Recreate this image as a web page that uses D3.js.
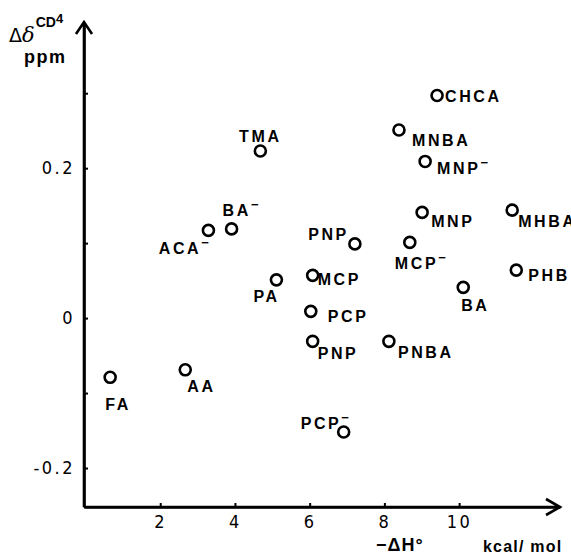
<!DOCTYPE html>
<html>
<head>
<meta charset="utf-8">
<script src="https://cdn.jsdelivr.net/npm/d3@7"></script>
<style>
  body { margin: 0; background: #fff; }
  svg { display: block; }
</style>
</head>
<body>
<script>
// compounds, -dH (kcal/mol) and shift (ppm)
var compounds = ["CHCA", "MNBA", "MNP⁻", "TMA", "MNP", "MHBA", "BA⁻", "ACA⁻", "PNP", "MCP⁻",
                 "PA", "MCP", "PHB", "BA", "PCP", "PNP", "PNBA", "FA", "AA", "PCP⁻"];
var enthalpy = [9.41, 8.39, 9.09, 4.68, 9.01, 11.42, 3.91, 3.29, 7.21, 8.68,
                5.11, 6.08, 11.53, 10.11, 6.03, 6.08, 8.12, 0.66, 2.67, 6.91];
var shift = [0.297, 0.251, 0.209, 0.223, 0.141, 0.144, 0.119, 0.117, 0.099, 0.101,
             0.051, 0.057, 0.064, 0.041, 0.009, -0.031, -0.031, -0.079, -0.069, -0.152];

var xTicks = [2, 4, 6, 8, 10];
var yTicks = [-0.2, -0.1, 0, 0.1, 0.2, 0.3];
var yTickLabels = { "-0.2": "-0.2", "0": "0", "0.2": "0.2" };

// where each label sits relative to its circle: [dx, dy, anchor]
var labelPlace = [[8, 7, "start"], [13, 16, "start"], [12, 13, "start"], [0, -9, "middle"],
                  [9, 15, "start"], [6, 17, "start"], [-9, -13, "start"], [3, 24, "end"],
                  [-6, -4, "end"], [-15, 27, "start"], [-23, 22, "start"], [5, 10, "start"],
                  [12, 11, "start"], [-2, 24, "start"], [17, 11, "start"], [5, 18, "start"],
                  [9, 17, "start"], [-5, 33, "start"], [2, 22, "start"], [-43, -3, "start"]];

var svgWidth = 571;
var svgHeight = 556;

var svg = d3.select("body")
  .append("svg")
  .attr("width", svgWidth)
  .attr("height", svgHeight);

var xScale = d3.scaleLinear().domain([-0.04, 12.7]).range([84, 560]);
var yScale = d3.scaleLinear().domain([-0.252, 0.395]).range([507, 22]);

var tickFont = "'Liberation Sans Narrow', 'DejaVu Sans Condensed', sans-serif";
var labelFont = "'Liberation Sans', Arial, sans-serif";

// axes
var leftAxis = d3.axisLeft(yScale)
  .tickValues(yTicks)
  .tickSizeInner(-4)
  .tickSizeOuter(0)
  .tickPadding(9)
  .tickFormat(d => yTickLabels[String(d)] || "");

var bottomAxis = d3.axisBottom(xScale)
  .tickValues(xTicks)
  .tickSizeInner(-4)
  .tickSizeOuter(0)
  .tickPadding(8)
  .tickFormat(d3.format("d"));

var gy = svg.append("g")
  .attr("transform", `translate(${xScale(-0.04)},0)`)
  .call(leftAxis);

var gx = svg.append("g")
  .attr("transform", `translate(0,${yScale(-0.252)})`)
  .call(bottomAxis);

[gx, gy].forEach(function(g) {
  g.select(".domain").attr("stroke", "#000").attr("stroke-width", 2.6);
  g.selectAll(".tick line").attr("stroke", "#000").attr("stroke-width", 2);
  g.selectAll(".tick text")
    .attr("fill", "#000")
    .attr("font-family", tickFont)
    .attr("font-size", 18)
    .attr("letter-spacing", 2.5);
});

// arrow heads
var ax0 = xScale(-0.04), ay0 = yScale(-0.252);
svg.append("path")
  .attr("d", `M${ax0 - 8},${yScale(0.395) + 12}L${ax0},${yScale(0.395)}L${ax0 + 8},${yScale(0.395) + 12}M${ax0},${yScale(0.395)}V${ay0}`)
  .attr("fill", "none").attr("stroke", "#000").attr("stroke-width", 2.6);
svg.append("path")
  .attr("d", `M${xScale(12.7) - 14},${ay0 - 8}L${xScale(12.7)},${ay0}L${xScale(12.7) - 14},${ay0 + 8}M${ax0},${ay0}H${xScale(12.7)}`)
  .attr("fill", "none").attr("stroke", "#000").attr("stroke-width", 2.6);

// points
var points = compounds.map((name, i) => ({ name: name, x: enthalpy[i], y: shift[i], place: labelPlace[i] }));

svg.append("g").selectAll("circle")
  .data(points)
  .enter()
  .append("circle")
  .attr("cx", d => xScale(d.x))
  .attr("cy", d => yScale(d.y))
  .attr("r", 5.5)
  .attr("fill", "#fff")
  .attr("stroke", "#000")
  .attr("stroke-width", 2.6);

var labels = svg.append("g").selectAll("text")
  .data(points)
  .enter()
  .append("text")
  .attr("x", d => xScale(d.x) + d.place[0])
  .attr("y", d => yScale(d.y) + d.place[1])
  .attr("text-anchor", d => d.place[2])
  .attr("font-family", labelFont)
  .attr("font-weight", "bold")
  .attr("font-size", 16)
  .attr("letter-spacing", 2.6);

labels.append("tspan").text(d => d.name.replace("⁻", ""));
labels.filter(d => d.name.indexOf("⁻") >= 0)
  .append("tspan")
  .attr("dy", -7)
  .attr("font-size", 13)
  .text("−");

// axis titles
var yTitle = svg.append("text")
  .attr("x", 9)
  .attr("y", 42)
  .attr("font-family", "'DejaVu Sans', sans-serif");
yTitle.append("tspan").attr("font-size", 19).text("Δ");
yTitle.append("tspan").attr("font-family", "'DejaVu Serif', serif")
  .attr("font-size", 21).attr("font-style", "italic").text("δ");
yTitle.append("tspan").attr("font-family", labelFont)
  .attr("font-weight", "bold").attr("font-size", 14).attr("dy", -15).attr("dx", 1).text("CD");
yTitle.append("tspan").attr("font-family", labelFont)
  .attr("font-weight", "bold").attr("font-size", 13).attr("dy", -4).text("4");

svg.append("text")
  .attr("x", 24)
  .attr("y", 63)
  .attr("font-family", labelFont)
  .attr("font-weight", "bold")
  .attr("font-size", 18)
  .attr("letter-spacing", 1.5)
  .text("ppm");

svg.append("text")
  .attr("x", 376)
  .attr("y", 551)
  .attr("font-family", labelFont)
  .attr("font-weight", "bold")
  .attr("font-size", 18)
  .attr("letter-spacing", 1)
  .text("−ΔH°");

svg.append("text")
  .attr("x", 483)
  .attr("y", 552)
  .attr("font-family", labelFont)
  .attr("font-weight", "bold")
  .attr("font-size", 16)
  .attr("letter-spacing", 1.2)
  .text("kcal/ mol");
</script>
</body>
</html>
